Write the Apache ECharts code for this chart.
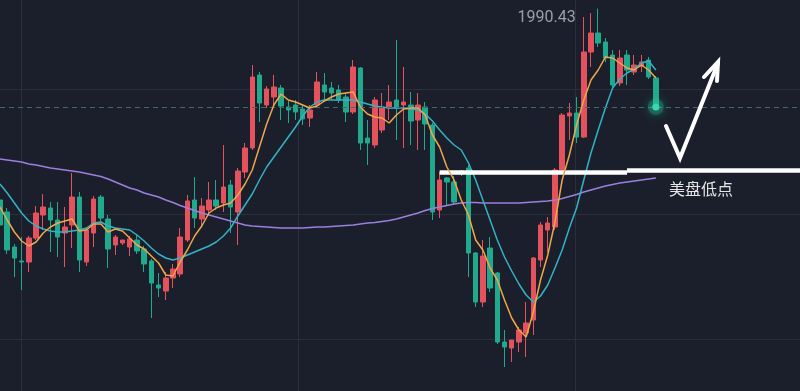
<!DOCTYPE html>
<html><head><meta charset="utf-8">
<script src="https://cdn.jsdelivr.net/npm/echarts/dist/echarts.min.js"></script>
<style>html,body{margin:0;padding:0;background:#1b1f2b;}#c{width:800px;height:391px;}</style>
</head><body><div id="c"></div>
<script>
// ---- data (prices) ----
const SLOTS = 112; // category slots across the view (empty space on the right)
const categories = Array.from({length: SLOTS}, (_, i) => String(i + 1));

const opens = [1975.12,1974.16,1971.36,1970.24,1970.16,1972.08,1973.92,1974.48,1973.52,1972.48,
1973.12,1975.36,1970.16,1972.48,1975.36,1973.60,1971.52,1971.68,1971.36,1971.92,
1971.20,1970.24,1968.32,1967.84,1968.88,1969.20,1971.92,1975.12,1973.60,1974.32,
1975.12,1974.88,1976.32,1974.16,1977.36,1979.28,1985.12,1982.72,1983.36,1984.08,
1982.56,1982.72,1982.40,1981.68,1982.72,1984.32,1984.08,1983.92,1983.36,1982.16,
1985.68,1980.08,1979.52,1980.72,1982.48,1983.12,1982.72,1982.72,1981.52,1982.56,
1981.12,1974.32,1976.88,1976.56,1977.44,1977.68,1970.88,1966.96,1971.28,1969.28,
1963.76,1963.28,1963.76,1964.48,1965.52,1970.32,1972.72,1972.96,1977.52,1981.84,
1982.08,1980.16,1986.96,1988.48,1987.76,1986.72,1984.48,1986.72,1985.36,1985.84,
1986.32,1984.88];
const closes = [1973.12,1971.12,1970.48,1970.16,1972.08,1974.08,1974.56,1973.52,1972.16,1972.96,
1975.36,1970.32,1972.72,1975.20,1973.68,1971.20,1972.16,1971.92,1972.00,1971.04,
1970.00,1968.48,1968.08,1968.88,1969.60,1972.16,1975.04,1973.68,1974.64,1975.12,
1974.64,1976.16,1974.56,1977.44,1979.28,1984.96,1982.88,1984.00,1984.16,1982.64,
1982.32,1982.16,1981.60,1982.32,1984.56,1983.76,1983.68,1983.12,1982.16,1985.76,
1979.68,1979.68,1983.12,1982.48,1982.96,1982.48,1982.96,1981.44,1982.72,1981.20,
1974.16,1976.72,1976.56,1974.96,1977.20,1970.88,1966.96,1970.64,1968.08,1963.76,
1963.36,1963.92,1964.72,1965.28,1970.48,1973.12,1973.28,1977.52,1981.92,1982.08,
1980.16,1986.96,1988.48,1987.68,1986.48,1984.32,1986.48,1985.52,1985.92,1986.16,
1984.96,1982.56];
const lows = [1972.72,1970.80,1968.96,1967.92,1969.36,1971.92,1972.72,1970.96,1970.56,1969.76,
1971.28,1969.36,1969.84,1971.36,1973.36,1969.68,1970.72,1971.52,1970.64,1970.80,
1969.36,1965.68,1967.36,1967.12,1968.08,1968.96,1971.76,1972.88,1973.04,1973.92,
1974.32,1974.16,1972.48,1971.52,1976.88,1979.12,1981.36,1982.48,1982.56,1981.52,
1981.28,1981.52,1981.12,1980.96,1982.48,1983.12,1983.12,1982.88,1981.36,1982.00,
1979.12,1977.92,1979.28,1980.48,1981.52,1979.92,1979.28,1979.52,1979.12,1979.12,
1973.52,1973.68,1974.72,1974.72,1977.04,1968.96,1966.56,1966.56,1967.76,1963.60,
1961.76,1962.16,1962.96,1962.56,1964.32,1969.76,1970.96,1972.72,1977.28,1979.92,
1979.68,1980.08,1985.76,1987.36,1986.16,1984.08,1984.24,1984.32,1985.12,1985.36,
1984.80,1982.32];
const highs = [1975.52,1974.48,1971.60,1972.16,1972.24,1974.64,1975.60,1974.96,1974.96,1974.56,
1977.28,1975.76,1972.88,1975.44,1975.52,1973.92,1972.32,1971.92,1972.24,1972.40,
1971.44,1970.40,1969.28,1969.36,1970.00,1972.88,1975.52,1976.96,1975.28,1976.56,
1976.72,1979.52,1976.72,1977.68,1979.68,1985.92,1985.36,1984.24,1985.12,1984.32,
1983.04,1983.12,1982.80,1982.72,1985.36,1985.28,1984.56,1984.32,1983.68,1986.32,
1985.76,1981.52,1983.36,1983.68,1984.32,1987.92,1985.76,1983.76,1983.68,1982.96,
1981.28,1977.36,1976.96,1977.04,1977.52,1977.92,1970.96,1971.92,1972.16,1969.36,
1964.72,1963.92,1964.96,1966.96,1970.56,1973.36,1973.76,1977.68,1982.08,1982.88,
1983.36,1989.76,1990.08,1990.43,1988.08,1987.12,1987.12,1987.12,1986.72,1986.72,
1986.56,1985.04];

// moving averages as drawn in the picture
const maFast = [1974.56,1973.52,1972.56,1971.84,1971.44,1971.76,1972.48,1972.96,1973.28,1973.44,
1973.60,1972.64,1972.72,1973.20,1973.20,1972.56,1972.80,1972.64,1972.08,1971.52,
1971.20,1970.64,1970.08,1969.12,1969.04,1970.16,1971.12,1972.24,1973.04,1974.08,
1974.48,1974.72,1974.88,1975.52,1976.40,1977.52,1979.36,1981.20,1982.72,1983.60,
1983.12,1982.96,1982.72,1982.48,1982.64,1983.04,1983.36,1983.60,1983.68,1983.76,
1982.56,1982.00,1981.76,1981.68,1981.28,1981.92,1982.40,1982.48,1982.48,1981.92,
1980.32,1979.36,1977.76,1976.72,1975.12,1973.92,1971.92,1971.12,1969.68,1968.72,
1967.12,1965.68,1964.72,1964.16,1966.16,1968.72,1970.72,1973.36,1976.72,1978.72,
1981.12,1983.12,1984.72,1985.52,1986.56,1986.48,1986.08,1985.68,1985.52,1985.92,
1985.52,1984.88];
const maMid = [1976.40,1975.68,1974.88,1974.08,1973.44,1973.04,1972.80,1972.64,1972.56,1972.56,
1972.64,1972.72,1972.88,1973.28,1973.36,1973.04,1972.88,1972.80,1972.72,1972.32,
1971.84,1971.28,1970.80,1970.48,1970.32,1970.48,1970.72,1970.96,1971.20,1971.44,
1971.76,1972.24,1972.88,1973.84,1974.72,1975.60,1976.72,1977.76,1978.56,1979.36,
1980.16,1980.96,1981.84,1982.56,1982.96,1983.12,1983.12,1983.12,1983.12,1983.12,
1982.96,1982.80,1982.64,1982.56,1982.48,1982.48,1982.48,1982.40,1982.32,1982.00,
1981.44,1980.72,1980.08,1979.52,1979.12,1978.08,1976.72,1975.12,1973.52,1971.92,
1970.56,1969.44,1968.40,1967.52,1966.96,1967.44,1968.32,1969.68,1971.12,1972.88,
1974.48,1976.72,1978.88,1980.72,1982.48,1984.08,1984.80,1985.28,1985.60,1986.08,
1986.24,1985.52];
const maSlow = [1978.40,1978.32,1978.24,1978.16,1978.00,1977.92,1977.80,1977.68,1977.60,1977.52,
1977.44,1977.36,1977.24,1977.12,1977.00,1976.80,1976.56,1976.32,1976.08,1975.92,
1975.68,1975.52,1975.36,1975.12,1974.92,1974.68,1974.48,1974.28,1974.08,1973.92,
1973.76,1973.60,1973.44,1973.28,1973.12,1973.04,1973.00,1972.96,1972.92,1972.88,
1972.88,1972.88,1972.88,1972.92,1972.96,1972.96,1973.00,1973.04,1973.08,1973.12,
1973.20,1973.28,1973.32,1973.40,1973.48,1973.60,1973.76,1973.92,1974.08,1974.28,
1974.44,1974.56,1974.68,1974.80,1974.88,1974.92,1974.92,1974.88,1974.88,1974.88,
1974.88,1974.88,1974.88,1974.92,1974.96,1975.00,1975.04,1975.12,1975.24,1975.40,
1975.56,1975.76,1975.92,1976.08,1976.24,1976.36,1976.48,1976.56,1976.64,1976.72,
1976.80,1976.88];

// white "US session low" line, drawn in two strokes as in the picture
const supportLevelA = 1977.32, supportLevelB = 1977.48;
const supportStartIdx = 61, supportJoinIdx = 87;
const priceMin = 1959.84, priceMax = 1991.12;  // visible price window
const lastIdx = closes.length - 1;
const lastClose = closes[lastIdx];

const UP = '#e3525d', DOWN = '#21a98e';
const GRIDLINE = '#2a2f3b';

const candleData = opens.map((o, i) => [o, closes[i], lows[i], highs[i]]);

const chart = echarts.init(document.getElementById('c'), null, {renderer: 'canvas'});
const hidden = {axisLine: {show: false}, axisTick: {show: false}, axisLabel: {show: false}};
chart.setOption({
  backgroundColor: '#1b1f2b',
  animation: false,
  grid: [
    {left: 0, right: 0, top: 0, bottom: 0, outerBoundsMode: 'none'},
    {left: 21, right: 225, top: 0, bottom: 0, outerBoundsMode: 'none'},   // vertical guide lines
    {left: 0, right: 0, top: 89, bottom: 52, outerBoundsMode: 'none'}     // horizontal guide lines
  ],
  xAxis: [
    Object.assign({type: 'category', data: categories, gridIndex: 0, boundaryGap: false, splitLine: {show: false}}, hidden),
    Object.assign({type: 'value', gridIndex: 1, min: 0, max: 2, interval: 1,
      splitLine: {show: true, lineStyle: {color: GRIDLINE, width: 1}}}, hidden),
    Object.assign({type: 'value', gridIndex: 2, min: 0, max: 1, show: false, splitLine: {show: false}}, hidden)
  ],
  yAxis: [
    Object.assign({type: 'value', gridIndex: 0, min: priceMin, max: priceMax, splitLine: {show: false}}, hidden),
    Object.assign({type: 'value', gridIndex: 1, min: 0, max: 1, show: false, splitLine: {show: false}}, hidden),
    Object.assign({type: 'value', gridIndex: 2, min: 0, max: 2, interval: 1,
      splitLine: {show: true, lineStyle: {color: GRIDLINE, width: 1}}}, hidden)
  ],
  series: [
    {
      type: 'candlestick', data: candleData, barWidth: 5, xAxisIndex: 0, yAxisIndex: 0,
      itemStyle: {color: UP, color0: DOWN, borderColor: UP, borderColor0: DOWN, borderWidth: 1},
      markLine: {
        silent: true, symbol: ['none', 'none'], label: {show: false},
        data: [
          {yAxis: lastClose, lineStyle: {color: '#3d6a6e', type: [5, 4], width: 1}},
          [{coord: [supportStartIdx, supportLevelA], lineStyle: {color: '#ffffff', width: 4.5, type: 'solid'}},
           {coord: [supportJoinIdx, supportLevelA]}],
          [{coord: [supportJoinIdx, supportLevelB], lineStyle: {color: '#ffffff', width: 4.5, type: 'solid'}},
           {coord: [SLOTS - 1, supportLevelB]}]
        ]
      },
      markPoint: {
        silent: true,
        data: [
          {type: 'max', valueDim: 'highest', symbol: 'circle', symbolSize: 1,
           itemStyle: {color: 'rgba(0,0,0,0)'},
           label: {show: true, position: 'left', distance: 0, offset: [-22, 9],
                   formatter: '{c}', color: '#9a9ea6', fontSize: 16, fontFamily: 'Roboto'}},
          {coord: [lastIdx, lastClose], symbol: 'circle', symbolSize: 16,
           itemStyle: {color: 'rgba(38,200,160,0.25)', shadowBlur: 14, shadowColor: 'rgba(38,200,160,0.8)'},
           label: {show: false}},
          {coord: [lastIdx, lastClose], symbol: 'circle', symbolSize: 7,
           itemStyle: {color: '#35d9ae', shadowBlur: 10, shadowColor: 'rgba(40,210,165,1)'},
           label: {show: false}}
        ]
      }
    },
    {type: 'line', data: maSlow, showSymbol: false, symbol: 'none', lineStyle: {color: '#9a80dc', width: 1.5}, z: 3},
    {type: 'line', data: maMid, showSymbol: false, symbol: 'none', lineStyle: {color: '#33b3c7', width: 1.5}, z: 4},
    {type: 'line', data: maFast, showSymbol: false, symbol: 'none', lineStyle: {color: '#f0a64a', width: 1.5}, z: 5}
  ],
  graphic: [
    {type: 'polyline', z: 100, shape: {points: [[666, 126], [680, 158], [718, 63]]},
     style: {stroke: '#ffffff', lineWidth: 4, fill: null, lineCap: 'round', lineJoin: 'miter'}},
    {type: 'polyline', z: 100, shape: {points: [[704, 77], [718, 62], [717, 81]]},
     style: {stroke: '#ffffff', lineWidth: 4, fill: null, lineCap: 'round', lineJoin: 'miter'}},
    {type: 'text', z: 100, left: 669, top: 181,
     style: {text: '美盘低点', fill: '#e6e6e6', fontSize: 16, fontFamily: '"Noto Sans CJK SC"'}}
  ]
});
</script></body></html>
